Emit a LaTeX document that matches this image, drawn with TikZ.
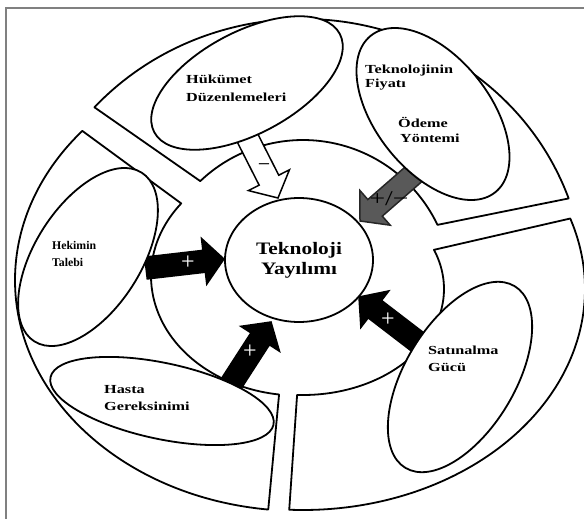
\documentclass[tikz,border=0pt]{standalone}
\usepackage{fontspec}
\setmainfont{Liberation Serif}[FakeStretch=1.32]
\newfontfamily\hekfont{Liberation Serif}
\newfontfamily\ctrfont{Liberation Serif}[FakeStretch=1.22]
\usetikzlibrary{calc,shapes.geometric}
\newcommand{\blockarr}[3]{%
  \coordinate (abase) at ($(#3)!20pt!(#2)$);
  \draw[#1] ($(#2)!11pt!90:(#3)$) -- ($(abase)!11pt!90:(#3)$) -- ($(abase)!23pt!90:(#3)$) -- (#3)
    -- ($(abase)!23pt!-90:(#3)$) -- ($(abase)!11pt!-90:(#3)$) -- ($(#2)!11pt!-90:(#3)$) -- cycle;}
\begin{document}
\begin{tikzpicture}[x=1pt,y=-1pt,
  seg/.style={draw=black,fill=white,line width=1.8pt,line join=round},
  oval/.style={draw=black,fill=white,line width=1.8pt,ellipse,inner sep=0pt},
  lbl/.style={font=\fontsize{12.3}{14}\selectfont\bfseries,anchor=base west,inner sep=0pt},
  heklbl/.style={font=\hekfont\fontsize{11.8}{14}\selectfont\bfseries,anchor=base west,inner sep=0pt},
  sign/.style={font=\hekfont\fontsize{24}{24}\selectfont,inner sep=0pt},
  wharr/.style={draw=black,fill=white,line width=1.5pt},
  bkarr/.style={draw=black,fill=black,line width=1.5pt},
  gyarr/.style={draw=black!85,fill=black!65,line width=1.5pt}]
\fill[white] (0,0) rectangle (584,519);
\useasboundingbox (0,0) rectangle (584,519);
\draw[black!50,line width=1.8pt] (6,519) -- (6,8) -- (584,8);
% ring segments
\coordinate (C1) at (303,289);
\coordinate (C2) at (300,280);
\coordinate (C3) at (298,276);
\draw[seg] ($(C1)+(-137.7:282 and 270)$) -- ($(C1)+(-133.6:149 and 149)$)
  arc[start angle=-133.6,end angle=-25.5,x radius=149,y radius=149]
  -- ($(C1)+(-19.6:282 and 270)$)
  arc[start angle=-19.6,end angle=-137.7,x radius=282,y radius=270] -- cycle;
\draw[seg] ($(C1)+(-18.6:282 and 221)$) -- ($(C1)+(-21.7:141 and 106)$)
  arc[start angle=-21.7,end angle=92.4,x radius=141,y radius=106]
  -- ($(C1)+(92.8:282 and 221)$)
  arc[start angle=92.8,end angle=-18.6,x radius=282,y radius=221] -- cycle;
\draw[seg] ($(C2)+(220.2:285 and 231)$) -- ($(C3)+(217.4:147 and 119.5)$)
  arc[start angle=217.4,end angle=97.4,x radius=147,y radius=119.5]
  -- ($(C2)+(96.4:285 and 231)$)
  arc[start angle=96.4,end angle=220.2,x radius=285,y radius=231] -- cycle;
% centre
\node[oval,minimum width=148pt,minimum height=124pt,align=center,
  font=\ctrfont\fontsize{17.5}{20}\selectfont\bfseries] (tk) at (299,260) {Teknoloji\\Yayılımı};
% arrows (tails start inside the factor ellipses, which cover them)
\coordinate (a1s) at (246,135); \coordinate (a1e) at (278,198);
\coordinate (a2s) at (415,173); \coordinate (a2e) at (360,221);
\coordinate (a3s) at (146,268); \coordinate (a3e) at (224,259);
\coordinate (a4s) at (231,384); \coordinate (a4e) at (271,322);
\coordinate (a5s) at (419,343); \coordinate (a5e) at (359,297);
\blockarr{wharr}{a1s}{a1e}
\blockarr{gyarr}{a2s}{a2e}
\blockarr{bkarr}{a3s}{a3e}
\blockarr{bkarr}{a4s}{a4e}
\blockarr{bkarr}{a5s}{a5e}
% factor ellipses
\node[oval,minimum width=210pt,minimum height=102pt,rotate=28] (huk) at (247,83) {};
\node[oval,minimum width=200pt,minimum height=114pt,rotate=-51.6] (tek) at (433,114) {};
\node[oval,minimum width=200pt,minimum height=106pt,rotate=57.5] (hek) at (88,257) {};
\node[oval,minimum width=228pt,minimum height=76pt,rotate=-12] (has) at (162,401) {};
\node[oval,minimum width=212pt,minimum height=110pt,rotate=59] (sat) at (460,377) {};
% labels
\node[lbl] (hukA) at (186,84) {Hükümet};
\node[lbl] (hukB) at (186,101) {Düzenlemeleri};
\node[lbl] (tekA) at (365,74) {Teknolojinin};
\node[lbl] (tekB) at (365,87.5) {Fiyatı};
\node[lbl] (odeA) at (398,127) {Ödeme};
\node[lbl] (odeB) at (400,142) {Yöntemi};
\node[heklbl] (hekA) at (52,249) {Hekimin};
\node[heklbl] (hekB) at (52,266) {Talebi};
\node[lbl] (hasA) at (104,393) {Hasta};
\node[lbl] (hasB) at (104,410) {Gereksinimi};
\node[lbl] (satA) at (428,354) {Satınalma};
\node[lbl] (satB) at (428,371) {Gücü};
% signs
\node[sign,font=\hekfont\fontsize{22}{22}\selectfont] (s1) at (264,168) {−};
\node[sign,font=\fontsize{21}{21}\selectfont] (s2) at (389,199) {+/−};
\node[sign,white] (s3) at (188,263) {+};
\node[sign,white] (s4) at (250,352) {+};
\node[sign,white] (s5) at (388,320) {+};
\end{tikzpicture}
\end{document}
